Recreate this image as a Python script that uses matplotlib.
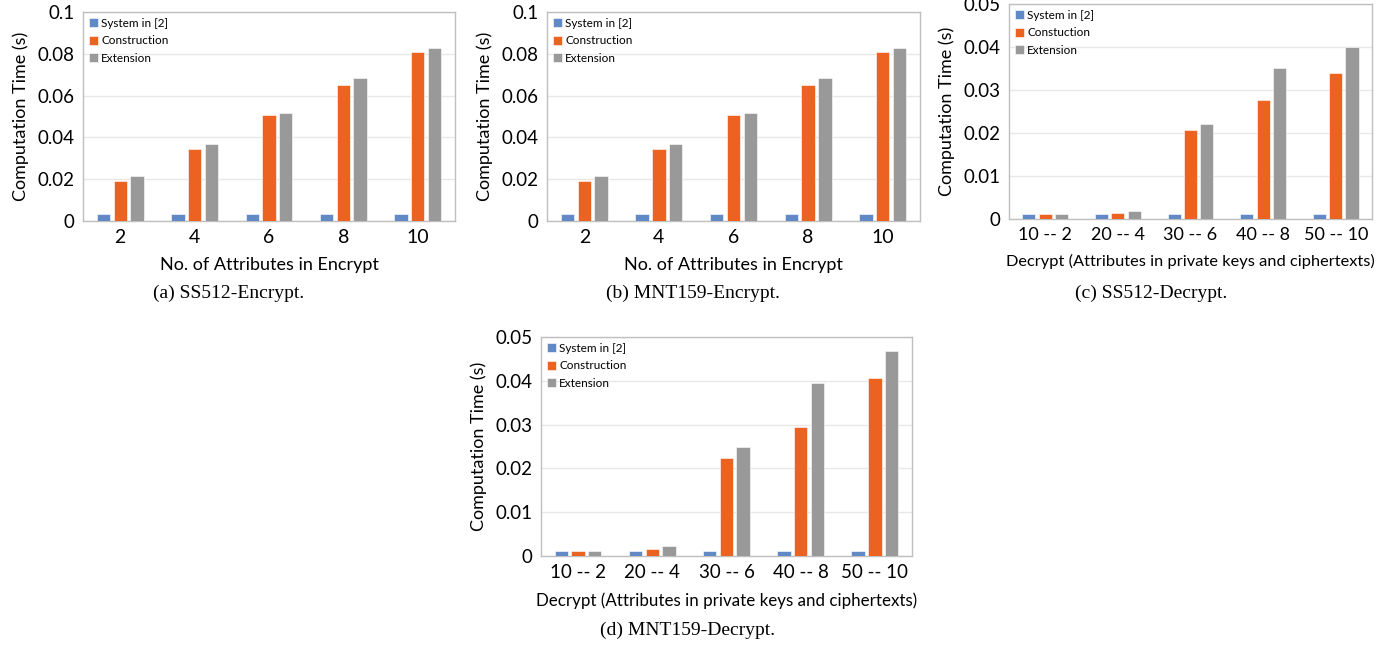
import matplotlib
matplotlib.use("Agg")
import matplotlib.pyplot as plt
import numpy as np

plt.rcParams['font.family'] = ['Lato', 'DejaVu Sans']

series_names_enc = ["System in [2]", "Construction", "Extension"]
series_names_dec_c = ["System in [2]", "Constuction", "Extension"]
series_names_dec_d = ["System in [2]", "Construction", "Extension"]

enc_labels = ["2", "4", "6", "8", "10"]
dec_labels = ["10 -- 2", "20 -- 4", "30 -- 6", "40 -- 8", "50 -- 10"]

# (a) SS512-Encrypt
a_sys = [0.0034, 0.0034, 0.0034, 0.0034, 0.0034]
a_con = [0.0192, 0.0346, 0.0506, 0.0651, 0.0810]
a_ext = [0.0216, 0.0368, 0.0517, 0.0685, 0.0830]
# (b) MNT159-Encrypt
b_sys = [0.0034, 0.0034, 0.0034, 0.0034, 0.0034]
b_con = [0.0192, 0.0346, 0.0506, 0.0651, 0.0810]
b_ext = [0.0216, 0.0368, 0.0517, 0.0685, 0.0830]
# (c) SS512-Decrypt
c_sys = [0.0011, 0.0011, 0.0011, 0.0011, 0.0011]
c_con = [0.0012, 0.0013, 0.0208, 0.0276, 0.0339]
c_ext = [0.0012, 0.0019, 0.0222, 0.0350, 0.0401]
# (d) MNT159-Decrypt
d_sys = [0.0011, 0.0011, 0.0011, 0.0011, 0.0011]
d_con = [0.0012, 0.0015, 0.0224, 0.0294, 0.0406]
d_ext = [0.0012, 0.0022, 0.0249, 0.0395, 0.0467]

colors = ["#6189C6", "#EB6221", "#999999"]


def draw(ax, labels, vals, names, ymax, yticks, yticklabels, xlabel,
         xlabel_size, xtick_size):
    x = np.arange(len(labels))
    w = 0.18
    step = 0.225
    for i, (v, n) in enumerate(zip(vals, names)):
        ax.bar(x + (i - 1) * step, v, width=w, color=colors[i], label=n,
               edgecolor="white", linewidth=0.4, zorder=3)
    ax.set_xlim(-0.5, len(labels) - 0.5)
    ax.set_ylim(0, ymax)
    ax.set_yticks(yticks)
    ax.set_yticklabels(yticklabels, fontsize=13.5)
    ax.set_xticks(x)
    ax.set_xticklabels(labels, fontsize=xtick_size)
    ax.tick_params(length=0, pad=6)
    ax.yaxis.grid(True, color="#E8E8E8", linewidth=1.0, zorder=0)
    ax.set_axisbelow(True)
    for s in ax.spines.values():
        s.set_color("#BFBFBF")
        s.set_linewidth(1.0)
    ax.set_ylabel("Computation Time (s)", fontsize=13, labelpad=6)
    ax.set_xlabel(xlabel, fontsize=xlabel_size, labelpad=8)
    ax.legend(loc="upper left", bbox_to_anchor=(0.0, 1.0), frameon=False,
              fontsize=8.5, handlelength=0.75, handleheight=0.75,
              handletextpad=0.3, labelspacing=0.55, borderaxespad=0.3,
              borderpad=0.2)


fig = plt.figure(figsize=(14, 6.5), dpi=100)

ax_a = fig.add_axes([0.0593, 0.66, 0.2657, 0.3215])
ax_b = fig.add_axes([0.3907, 0.66, 0.2664, 0.3215])
ax_c = fig.add_axes([0.7207, 0.6631, 0.2593, 0.3308])
ax_d = fig.add_axes([0.3864, 0.1446, 0.2650, 0.3369])

enc_ticks = [0, 0.02, 0.04, 0.06, 0.08, 0.1]
enc_ticklabels = ["0", "0.02", "0.04", "0.06", "0.08", "0.1"]
dec_ticks = [0, 0.01, 0.02, 0.03, 0.04, 0.05]
dec_ticklabels = ["0", "0.01", "0.02", "0.03", "0.04", "0.05"]

draw(ax_a, enc_labels, [a_sys, a_con, a_ext], series_names_enc, 0.1,
     enc_ticks, enc_ticklabels, "No. of Attributes in Encrypt", 13, 14)
draw(ax_b, enc_labels, [b_sys, b_con, b_ext], series_names_enc, 0.1,
     enc_ticks, enc_ticklabels, "No. of Attributes in Encrypt", 13, 14)
draw(ax_c, dec_labels, [c_sys, c_con, c_ext], series_names_dec_c, 0.05,
     dec_ticks, dec_ticklabels,
     "Decrypt (Attributes in private keys and ciphertexts)", 11.8, 13)
draw(ax_d, dec_labels, [d_sys, d_con, d_ext], series_names_dec_d, 0.05,
     dec_ticks, dec_ticklabels,
     "Decrypt (Attributes in private keys and ciphertexts)", 12.2, 13.5)

cap_kw = dict(fontsize=14, family="Liberation Serif", ha="center", va="center")
fig.text(229 / 1400, 1 - 293 / 650, "(a) SS512-Encrypt.", **cap_kw)
fig.text(693 / 1400, 1 - 293 / 650, "(b) MNT159-Encrypt.", **cap_kw)
fig.text(1151 / 1400, 1 - 293 / 650, "(c) SS512-Decrypt.", **cap_kw)
fig.text(687 / 1400, 1 - 630 / 650, "(d) MNT159-Decrypt.", **cap_kw)

fig.savefig("out.png", dpi=100)
